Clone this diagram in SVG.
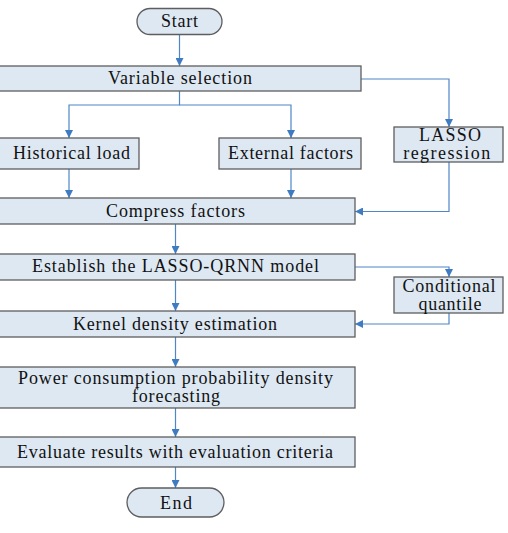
<svg xmlns="http://www.w3.org/2000/svg" width="508" height="533" viewBox="0 0 508 533">
<defs>
<marker id="a" viewBox="0 0 10 10" refX="10" refY="5" markerWidth="8" markerHeight="8" markerUnits="userSpaceOnUse" orient="auto">
<path d="M0,0L10,5L0,10z" fill="#3f7bc0"/>
</marker>
</defs>
<g id="connectors" fill="none" stroke="#4f86c6" stroke-width="1.2" marker-end="url(#a)">
<path d="M179.5,34V66"/>
<path d="M179.5,91V105H69V138"/>
<path d="M179.5,105H291V138"/>
<path d="M361,79H449V127"/>
<path d="M69,169V198"/>
<path d="M291,169V198"/>
<path d="M449,162V211.5H355"/>
<path d="M175.5,224V254"/>
<path d="M355,267H449V277"/>
<path d="M175.5,280V311"/>
<path d="M449,313V324H355"/>
<path d="M175.5,337V367"/>
<path d="M175.5,408V437"/>
<path d="M175.5,467V488"/>
</g>
<g fill="#dde8f3" stroke="#5e5e5e" stroke-width="1.3">
<rect id="start-shape" x="137" y="8.5" width="85" height="26" rx="13"/>
<rect id="variable-selection-shape" x="-3" y="66" width="364" height="25"/>
<rect id="historical-load-shape" x="-3" y="138" width="142" height="31"/>
<rect id="external-factors-shape" x="219" y="138" width="142" height="31"/>
<rect id="lasso-regression-shape" x="394" y="127" width="109" height="35"/>
<rect id="compress-factors-shape" x="-3" y="198" width="358" height="26"/>
<rect id="establish-model-shape" x="-3" y="254" width="358" height="26"/>
<rect id="conditional-quantile-shape" x="394" y="277" width="109" height="36"/>
<rect id="kernel-density-shape" x="-3" y="311" width="358" height="26"/>
<rect id="power-forecasting-shape" x="-3" y="367" width="358" height="41"/>
<rect id="evaluate-results-shape" x="-3" y="437" width="358" height="30"/>
<rect id="end-shape" x="127" y="488" width="97" height="29" rx="14.5"/>
</g>
<text font-family="Liberation Serif" font-size="18" fill="#111" text-anchor="middle" x="179.5" y="27" textLength="37" lengthAdjust="spacing">Start</text>
<text font-family="Liberation Serif" font-size="18" fill="#111" text-anchor="middle" x="180" y="84" textLength="144" lengthAdjust="spacing">Variable selection</text>
<text font-family="Liberation Serif" font-size="18" fill="#111" text-anchor="middle" x="71.5" y="158.5" textLength="117" lengthAdjust="spacing">Historical load</text>
<text font-family="Liberation Serif" font-size="18" fill="#111" text-anchor="middle" x="290.5" y="158.5" textLength="125" lengthAdjust="spacing">External factors</text>
<text font-family="Liberation Serif" font-size="18" fill="#111" text-anchor="middle" x="450" y="140.5" textLength="62" lengthAdjust="spacing">LASSO</text>
<text font-family="Liberation Serif" font-size="18" fill="#111" text-anchor="middle" x="446.7" y="158.5" textLength="87" lengthAdjust="spacing">regression</text>
<text font-family="Liberation Serif" font-size="18" fill="#111" text-anchor="middle" x="175.5" y="217" textLength="139" lengthAdjust="spacing">Compress factors</text>
<text font-family="Liberation Serif" font-size="18" fill="#111" text-anchor="middle" x="175.5" y="272" textLength="287" lengthAdjust="spacing">Establish the LASSO-QRNN model</text>
<text font-family="Liberation Serif" font-size="18" fill="#111" text-anchor="middle" x="449" y="291.5" textLength="93" lengthAdjust="spacing">Conditional</text>
<text font-family="Liberation Serif" font-size="18" fill="#111" text-anchor="middle" x="450" y="309.5" textLength="63" lengthAdjust="spacing">quantile</text>
<text font-family="Liberation Serif" font-size="18" fill="#111" text-anchor="middle" x="175" y="329.5" textLength="204" lengthAdjust="spacing">Kernel density estimation</text>
<text font-family="Liberation Serif" font-size="18" fill="#111" text-anchor="middle" x="175.5" y="384" textLength="315" lengthAdjust="spacing">Power consumption probability density</text>
<text font-family="Liberation Serif" font-size="18" fill="#111" text-anchor="middle" x="176" y="401.5" textLength="88" lengthAdjust="spacing">forecasting</text>
<text font-family="Liberation Serif" font-size="18" fill="#111" text-anchor="middle" x="175" y="457.5" textLength="316" lengthAdjust="spacing">Evaluate results with evaluation criteria</text>
<text font-family="Liberation Serif" font-size="18" fill="#111" text-anchor="middle" x="176" y="508.5" textLength="32" lengthAdjust="spacing">End</text>
</svg>
